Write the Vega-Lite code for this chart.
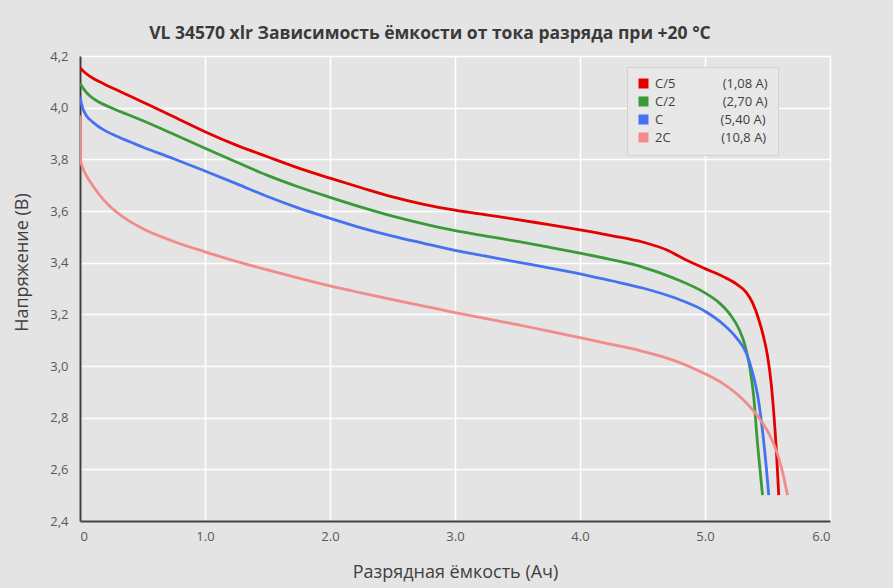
{
  "$schema": "https://vega.github.io/schema/vega-lite/v6.json",
  "width": 750,
  "height": 465,
  "autosize": "none",
  "padding": {"left": 80, "top": 56, "right": 63, "bottom": 67},
  "background": "#e4e4e4",
  "title": {
    "text": "VL 34570 xlr Зависимость ёмкости от тока разряда при  +20 °C",
    "font": "Open Sans",
    "fontSize": 17.5,
    "fontWeight": "bold",
    "color": "#3a3a3a",
    "offset": 8,
    "dx": -25
  },
  "config": {
    "view": {"stroke": null},
    "font": "Open Sans"
  },
  "data": {
    "values": [
      {"series": "C/5", "x": 0, "v": 4.155},
      {"series": "C/5", "x": 0.03, "v": 4.14},
      {"series": "C/5", "x": 0.06, "v": 4.128},
      {"series": "C/5", "x": 0.1, "v": 4.115},
      {"series": "C/5", "x": 0.2, "v": 4.09},
      {"series": "C/5", "x": 0.35, "v": 4.056},
      {"series": "C/5", "x": 0.5, "v": 4.022},
      {"series": "C/5", "x": 0.75, "v": 3.965},
      {"series": "C/5", "x": 1.0, "v": 3.907},
      {"series": "C/5", "x": 1.25, "v": 3.855},
      {"series": "C/5", "x": 1.5, "v": 3.81},
      {"series": "C/5", "x": 1.75, "v": 3.766},
      {"series": "C/5", "x": 2.0, "v": 3.727},
      {"series": "C/5", "x": 2.25, "v": 3.69},
      {"series": "C/5", "x": 2.5, "v": 3.655},
      {"series": "C/5", "x": 2.75, "v": 3.626},
      {"series": "C/5", "x": 3.0, "v": 3.603},
      {"series": "C/5", "x": 3.25, "v": 3.585},
      {"series": "C/5", "x": 3.5, "v": 3.567},
      {"series": "C/5", "x": 3.75, "v": 3.547},
      {"series": "C/5", "x": 4.0, "v": 3.527},
      {"series": "C/5", "x": 4.25, "v": 3.505},
      {"series": "C/5", "x": 4.5, "v": 3.48},
      {"series": "C/5", "x": 4.7, "v": 3.448},
      {"series": "C/5", "x": 4.85, "v": 3.41},
      {"series": "C/5", "x": 5.0, "v": 3.377},
      {"series": "C/5", "x": 5.15, "v": 3.345},
      {"series": "C/5", "x": 5.25, "v": 3.318},
      {"series": "C/5", "x": 5.33, "v": 3.285},
      {"series": "C/5", "x": 5.38, "v": 3.245},
      {"series": "C/5", "x": 5.43, "v": 3.18},
      {"series": "C/5", "x": 5.47, "v": 3.11},
      {"series": "C/5", "x": 5.5, "v": 3.04},
      {"series": "C/5", "x": 5.53, "v": 2.93},
      {"series": "C/5", "x": 5.55, "v": 2.82},
      {"series": "C/5", "x": 5.57, "v": 2.68},
      {"series": "C/5", "x": 5.59, "v": 2.5},
      {"series": "C/2", "x": 0, "v": 4.095},
      {"series": "C/2", "x": 0.03, "v": 4.072},
      {"series": "C/2", "x": 0.08, "v": 4.045},
      {"series": "C/2", "x": 0.15, "v": 4.022},
      {"series": "C/2", "x": 0.25, "v": 4.0},
      {"series": "C/2", "x": 0.5, "v": 3.95},
      {"series": "C/2", "x": 0.75, "v": 3.897},
      {"series": "C/2", "x": 1.0, "v": 3.843},
      {"series": "C/2", "x": 1.25, "v": 3.79},
      {"series": "C/2", "x": 1.5, "v": 3.738},
      {"series": "C/2", "x": 1.75, "v": 3.693},
      {"series": "C/2", "x": 2.0, "v": 3.653},
      {"series": "C/2", "x": 2.25, "v": 3.615},
      {"series": "C/2", "x": 2.5, "v": 3.58},
      {"series": "C/2", "x": 2.75, "v": 3.55},
      {"series": "C/2", "x": 3.0, "v": 3.524},
      {"series": "C/2", "x": 3.25, "v": 3.503},
      {"series": "C/2", "x": 3.5, "v": 3.482},
      {"series": "C/2", "x": 3.75, "v": 3.46},
      {"series": "C/2", "x": 4.0, "v": 3.437},
      {"series": "C/2", "x": 4.25, "v": 3.412},
      {"series": "C/2", "x": 4.5, "v": 3.383},
      {"series": "C/2", "x": 4.75, "v": 3.34},
      {"series": "C/2", "x": 5.0, "v": 3.283},
      {"series": "C/2", "x": 5.1, "v": 3.25},
      {"series": "C/2", "x": 5.2, "v": 3.2},
      {"series": "C/2", "x": 5.27, "v": 3.145},
      {"series": "C/2", "x": 5.32, "v": 3.08},
      {"series": "C/2", "x": 5.36, "v": 2.99},
      {"series": "C/2", "x": 5.39, "v": 2.88},
      {"series": "C/2", "x": 5.42, "v": 2.7},
      {"series": "C/2", "x": 5.44, "v": 2.6},
      {"series": "C/2", "x": 5.46, "v": 2.5},
      {"series": "C", "x": 0, "v": 4.04},
      {"series": "C", "x": 0.02, "v": 4.0},
      {"series": "C", "x": 0.05, "v": 3.97},
      {"series": "C", "x": 0.1, "v": 3.945},
      {"series": "C", "x": 0.18, "v": 3.917},
      {"series": "C", "x": 0.3, "v": 3.888},
      {"series": "C", "x": 0.5, "v": 3.848},
      {"series": "C", "x": 0.75, "v": 3.802},
      {"series": "C", "x": 1.0, "v": 3.755},
      {"series": "C", "x": 1.25, "v": 3.706},
      {"series": "C", "x": 1.5, "v": 3.656},
      {"series": "C", "x": 1.75, "v": 3.611},
      {"series": "C", "x": 2.0, "v": 3.572},
      {"series": "C", "x": 2.25, "v": 3.535},
      {"series": "C", "x": 2.5, "v": 3.503},
      {"series": "C", "x": 2.75, "v": 3.475},
      {"series": "C", "x": 3.0, "v": 3.448},
      {"series": "C", "x": 3.25, "v": 3.425},
      {"series": "C", "x": 3.5, "v": 3.402},
      {"series": "C", "x": 3.75, "v": 3.38},
      {"series": "C", "x": 4.0, "v": 3.357},
      {"series": "C", "x": 4.25, "v": 3.33},
      {"series": "C", "x": 4.5, "v": 3.302},
      {"series": "C", "x": 4.75, "v": 3.265},
      {"series": "C", "x": 5.0, "v": 3.212},
      {"series": "C", "x": 5.15, "v": 3.16},
      {"series": "C", "x": 5.25, "v": 3.11},
      {"series": "C", "x": 5.33, "v": 3.05},
      {"series": "C", "x": 5.38, "v": 2.975},
      {"series": "C", "x": 5.42, "v": 2.89},
      {"series": "C", "x": 5.46, "v": 2.75},
      {"series": "C", "x": 5.49, "v": 2.61},
      {"series": "C", "x": 5.51, "v": 2.5},
      {"series": "2C", "x": 0, "v": 3.97},
      {"series": "2C", "x": 0.003, "v": 3.8},
      {"series": "2C", "x": 0.02, "v": 3.77},
      {"series": "2C", "x": 0.05, "v": 3.738},
      {"series": "2C", "x": 0.1, "v": 3.7},
      {"series": "2C", "x": 0.16, "v": 3.66},
      {"series": "2C", "x": 0.23, "v": 3.622},
      {"series": "2C", "x": 0.35, "v": 3.575},
      {"series": "2C", "x": 0.5, "v": 3.532},
      {"series": "2C", "x": 0.75, "v": 3.482},
      {"series": "2C", "x": 1.0, "v": 3.442},
      {"series": "2C", "x": 1.25, "v": 3.405},
      {"series": "2C", "x": 1.5, "v": 3.372},
      {"series": "2C", "x": 1.75, "v": 3.34},
      {"series": "2C", "x": 2.0, "v": 3.31},
      {"series": "2C", "x": 2.25, "v": 3.283},
      {"series": "2C", "x": 2.5, "v": 3.257},
      {"series": "2C", "x": 2.75, "v": 3.232},
      {"series": "2C", "x": 3.0, "v": 3.207},
      {"series": "2C", "x": 3.25, "v": 3.183},
      {"series": "2C", "x": 3.5, "v": 3.16},
      {"series": "2C", "x": 3.75, "v": 3.135},
      {"series": "2C", "x": 4.0, "v": 3.11},
      {"series": "2C", "x": 4.25, "v": 3.084},
      {"series": "2C", "x": 4.5, "v": 3.057},
      {"series": "2C", "x": 4.75, "v": 3.022},
      {"series": "2C", "x": 5.0, "v": 2.97},
      {"series": "2C", "x": 5.15, "v": 2.93},
      {"series": "2C", "x": 5.3, "v": 2.872},
      {"series": "2C", "x": 5.43, "v": 2.8},
      {"series": "2C", "x": 5.52, "v": 2.73},
      {"series": "2C", "x": 5.58, "v": 2.66},
      {"series": "2C", "x": 5.62, "v": 2.59},
      {"series": "2C", "x": 5.66, "v": 2.5}
    ]
  },
  "mark": {"type": "line", "interpolate": "monotone", "clip": true, "strokeWidth": 2.8},
  "encoding": {
    "x": {
      "field": "x",
      "type": "quantitative",
      "scale": {"domain": [0, 6], "nice": false, "zero": false},
      "axis": {
        "values": [0, 1, 2, 3, 4, 5, 6],
        "labelExpr": "datum.value == 0 ? '0' : format(datum.value, '.1f')",
        "title": "Разрядная ёмкость (Ач)",
        "titleFont": "Open Sans",
        "titleFontSize": 18,
        "titleFontWeight": "normal",
        "titleColor": "#404040",
        "titlePadding": 20,
        "labelFont": "Open Sans",
        "labelFontSize": 13,
        "labelColor": "#595959",
        "labelPadding": 9,
        "ticks": false,
        "domainColor": "#404040",
        "domainWidth": 2,
        "gridColor": "#ffffff",
        "gridWidth": 1.5,
        "gridOpacity": 1
      }
    },
    "y": {
      "field": "v",
      "type": "quantitative",
      "scale": {"domain": [2.4, 4.2], "nice": false, "zero": false},
      "axis": {
        "values": [2.4, 2.6, 2.8, 3.0, 3.2, 3.4, 3.6, 3.8, 4.0, 4.2],
        "labelExpr": "replace(format(datum.value, '.1f'), '.', ',')",
        "title": "Напряжение (В)",
        "titleFont": "Open Sans",
        "titleFontSize": 18,
        "titleFontWeight": "normal",
        "titleColor": "#404040",
        "titleX": -49,
        "titleY": 206,
        "titleAlign": "center",
        "titleBaseline": "bottom",
        "labelFont": "Open Sans",
        "labelFontSize": 13,
        "labelColor": "#595959",
        "labelPadding": 12,
        "ticks": false,
        "domainColor": "#404040",
        "domainWidth": 2,
        "gridColor": "#ffffff",
        "gridWidth": 1.5,
        "gridOpacity": 1
      }
    },
    "color": {
      "field": "series",
      "type": "nominal",
      "sort": ["C/5", "C/2", "C", "2C"],
      "scale": {
        "domain": ["C/5", "C/2", "C", "2C"],
        "range": ["#e50000", "#3a9a3a", "#4472f0", "#f28b8b"]
      },
      "legend": {
        "title": null,
        "orient": "none",
        "legendX": 547,
        "legendY": 11,
        "padding": 10,
        "fillColor": "#e8e8e8",
        "strokeColor": "#d2d2d2",
        "symbolType": "square",
        "symbolSize": 100,
        "labelFont": "Open Sans",
        "labelFontSize": 13,
        "labelColor": "#404040",
        "labelOffset": 5,
        "rowPadding": 4,
        "labelLimit": 300,
        "labelExpr": "datum.label == 'C/5' ? 'C/5\u00a0\u00a0\u00a0\u00a0\u00a0\u00a0\u00a0\u00a0\u00a0\u00a0\u00a0\u00a0\u00a0\u00a0(1,08 A)' : datum.label == 'C/2' ? 'C/2\u00a0\u00a0\u00a0\u00a0\u00a0\u00a0\u00a0\u00a0\u00a0\u00a0\u00a0\u00a0\u00a0\u00a0(2,70 A)' : datum.label == 'C' ? 'C\u00a0\u00a0\u00a0\u00a0\u00a0\u00a0\u00a0\u00a0\u00a0\u00a0\u00a0\u00a0\u00a0\u00a0\u00a0\u00a0\u00a0(5,40 A)' : '2C\u00a0\u00a0\u00a0\u00a0\u00a0\u00a0\u00a0\u00a0\u00a0\u00a0\u00a0\u00a0\u00a0\u00a0\u00a0(10,8 A)'",
        "encode": {
          "symbols": {
            "update": {
              "fill": {"scale": "color", "field": "value"},
              "fillOpacity": {"value": 1},
              "stroke": {"value": "transparent"},
              "strokeWidth": {"value": 0}
            }
          }
        }
      }
    }
  }
}
